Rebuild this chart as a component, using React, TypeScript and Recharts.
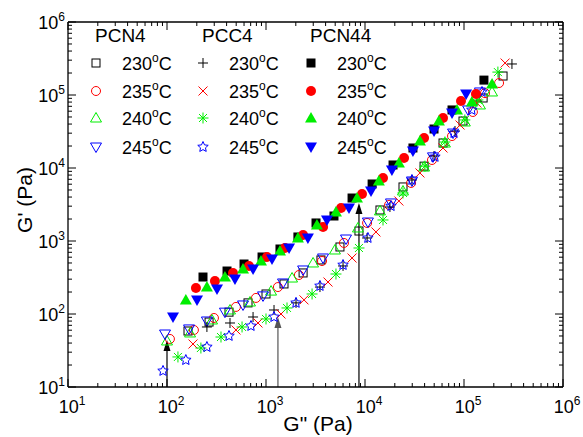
import React from 'react';
import { ScatterChart, Scatter, XAxis, YAxis, ReferenceLine } from 'recharts';

if (typeof document !== 'undefined') {
  document.body.style.margin = '0';
}

// ---------- data (G'' [Pa], G' [Pa]) ----------
const groupNames = ['PCN4', 'PCC4', 'PCN44'];
const tempLabels = ['230', '235', '240', '245'];

const pcn4_230 = [[163,58.5],[266,77.6],[423,106],[658,142],[1000,188],[1520,258],[2370,365],[3590,550],[5585,828],[8690,1370],[14160,2660],[24200,5500],[39500,10600],[61400,22000],[97700,44000],[156000,91000],[248000,182000]];
const pcn4_235 = [[107,45.5],[187,60.4],[298,88.2],[497,125],[792,166],[1320,234],[2150,342],[3680,532],[6130,940],[10500,1766],[17500,3115],[29200,6240],[47500,12880],[75700,27400],[123000,58500],[163000,106000],[226000,146000]];
const pcn4_240 = [[100,42.7],[171,55],[285,82.8],[433,113.5],[689,146],[1125,206],[1833,311],[2990,500],[4972,753],[8490,1508],[14160,2580],[24200,4840],[39500,10300],[64180,22000],[102000,42700],[145000,73030],[192000,110000]];
const pcn4_245 = [[95.5,53.2],[167,62.4],[253,80.2],[385,106],[586,133],[933,177],[1485,266],[2370,401],[3770,585],[6430,1065],[10700,1820],[18300,3320],[29800,6640],[48600,14200],[77500,30100],[110000,62370],[145000,110000]];

const pcc4_230 = [[253,66.4],[433,75.3],[740,91],[1205,113.5],[2010,142],[3508,234],[6000,455],[10500,1100],[17860,2920],[29800,6855],[49800,14600],[81100,32100],[135000,82800],[305000,266000]];
const pcc4_235 = [[183,38.8],[497,60.4],[830,75.3],[1418,100],[2420,156],[4230,274],[7400,585],[12900,1330],[22000,3530],[35890,8550],[61400,18800],[91200,38800],[135000,77600],[260000,274000]];
const pcc4_240 = [[129,25.8],[220,34.2],[351,48.4],[573,66.4],[1000,85.5],[1630,121],[2920,188],[5090,353],[8690,802],[15200,1941],[24200,4550],[40310,10600],[64180,22700],[102000,45500],[138000,85500],[220000,206000]];
const pcc4_245 = [[91.2,16.6],[155,23.4],[253,35.3],[423,50],[705,68.5],[1205,91],[2010,142],[3508,242],[6000,469],[10700,1100],[18300,3010],[29800,6855],[50870,14200],[79300,30100],[120000,62370],[152000,110000]];

const pcn44_230 = [[231,321],[404,388],[600,484],[912,604],[1384,777],[2100,1135],[3200,1766],[4860,2200],[7400,3880],[11800,6040],[19200,11000],[30500,18800],[49800,34200],[75700,62400],[159000,160000]];
const pcn44_235 = [[196,227],[305,283],[464,365],[673,455],[1024,604],[1555,802],[2370,1209],[3770,1556],[5730,2830],[9330,4400],[15200,7300],[24800,13700],[39500,25800],[61400,48400],[93300,82800],[132000,103000]];
const pcn44_240 = [[155,156],[253,234],[385,321],[586,413],[890,532],[1384,730],[2100,1100],[3270,1657],[5090,2500],[8300,3880],[13800,6640],[22000,11700],[35890,23400],[55800,44000],[85000,62400],[120000,80100],[192000,141000]];
const pcn44_245 = [[115,91],[201,156],[320,220],[486,301],[740,413],[1150,566],[1710,802],[2650,1100],[4130,1941],[6890,2830],[11500,4840],[18700,9400],[30500,17100],[49800,32100],[75700,56600],[105000,103000]];

// arrows: G'' position and G' of the tip (start at bottom of axis)
const arrowX = [100, 1320, 8690];
const arrowTipY = [44, 91, 3320];

const majorTicks = [10, 100, 1000, 10000, 100000, 1000000];
const minorMult = [2, 3, 4, 5, 6, 7, 8, 9];

// ---------- styling ----------
const FONT = 'Liberation Sans, Arial, Helvetica, sans-serif';
const BLACK = '#000000';
const RED = '#ff0000';
const GREEN = '#00ee00';
const BLUE = '#0000ff';
const tempColors = [BLACK, RED, GREEN, BLUE];
const groupKinds = [
  ['square', 'circle', 'tri', 'triDown'],
  ['plus', 'cross', 'aster', 'star'],
  ['squareF', 'circleF', 'triF', 'triDownF'],
];
const groupData = [
  [pcn4_230, pcn4_235, pcn4_240, pcn4_245],
  [pcc4_230, pcc4_235, pcc4_240, pcc4_245],
  [pcn44_230, pcn44_235, pcn44_240, pcn44_245],
];
const arrowColors = [BLACK, '#555555', BLACK];

const allTicks = [
  ...majorTicks,
  ...majorTicks.slice(0, -1).flatMap((d) => minorMult.map((m) => m * d)),
].sort((a, b) => a - b);

const expOf = (v: number) => Math.round(Math.log10(v));
const isMajor = (v: number) => Math.abs(Math.log10(v) - expOf(v)) < 1e-9;

function starPath(cx: number, cy: number, ro: number, ri: number) {
  let d = '';
  for (let i = 0; i < 10; i++) {
    const r = i % 2 === 0 ? ro : ri;
    const a = -Math.PI / 2 + (i * Math.PI) / 5;
    d += (i === 0 ? 'M' : 'L') + (cx + r * Math.cos(a)).toFixed(2) + ',' + (cy + r * Math.sin(a)).toFixed(2);
  }
  return d + 'Z';
}

function Marker({ kind, color, cx, cy }: { kind: string; color: string; cx: number; cy: number }) {
  const sw = 1;
  switch (kind) {
    case 'square':
      return <rect x={cx - 4} y={cy - 4} width={8} height={8} fill="none" stroke={color} strokeWidth={sw} />;
    case 'squareF':
      return <rect x={cx - 4.5} y={cy - 4.5} width={9} height={9} fill={color} stroke="none" />;
    case 'circle':
      return <circle cx={cx} cy={cy} r={4.5} fill="none" stroke={color} strokeWidth={sw} />;
    case 'circleF':
      return <circle cx={cx} cy={cy} r={5} fill={color} stroke="none" />;
    case 'tri':
      return <polygon points={`${cx},${cy - 5.5} ${cx - 5.5},${cy + 4} ${cx + 5.5},${cy + 4}`} fill="none" stroke={color} strokeWidth={sw} />;
    case 'triF':
      return <polygon points={`${cx},${cy - 6} ${cx - 6},${cy + 4.5} ${cx + 6},${cy + 4.5}`} fill={color} stroke="none" />;
    case 'triDown':
      return <polygon points={`${cx - 5.5},${cy - 4} ${cx + 5.5},${cy - 4} ${cx},${cy + 5.5}`} fill="none" stroke={color} strokeWidth={sw} />;
    case 'triDownF':
      return <polygon points={`${cx - 6},${cy - 4.5} ${cx + 6},${cy - 4.5} ${cx},${cy + 6}`} fill={color} stroke="none" />;
    case 'plus':
      return <path d={`M${cx - 5},${cy}h10M${cx},${cy - 5}v10`} stroke={color} strokeWidth={sw} fill="none" />;
    case 'cross':
      return <path d={`M${cx - 4.5},${cy - 4.5}l9,9M${cx + 4.5},${cy - 4.5}l-9,9`} stroke={color} strokeWidth={sw} fill="none" />;
    case 'aster':
      return <path d={`M${cx - 5.5},${cy}h11M${cx},${cy - 5.5}v11M${cx - 4},${cy - 4}l8,8M${cx + 4},${cy - 4}l-8,8`} stroke={color} strokeWidth={sw} fill="none" />;
    case 'star':
      return <path d={starPath(cx, cy, 5.5, 2.6)} stroke={color} strokeWidth={sw} fill="none" />;
    default:
      return null;
  }
}

const TickLabel = ({ x, y, v, anchor }: { x: number; y: number; v: number; anchor: 'middle' | 'end' }) => (
  <text x={x} y={y} textAnchor={anchor} fontFamily={FONT} fontSize={18} fill="#000">
    <tspan>10</tspan>
    <tspan dy={-8} fontSize={12}>{expOf(v)}</tspan>
  </text>
);

const BottomTick = (props: any) => {
  const { x, y, payload } = props;
  const v = payload.value;
  const major = isMajor(v);
  return (
    <g>
      <line x1={x} y1={y} x2={x} y2={y - (major ? 8 : 4)} stroke="#000" strokeWidth={1} />
      {major && <TickLabel x={x + 4} y={y + 26} v={v} anchor="middle" />}
    </g>
  );
};
const TopTick = (props: any) => {
  const { x, y, payload } = props;
  const major = isMajor(payload.value);
  return <line x1={x} y1={y} x2={x} y2={y + (major ? 8 : 4)} stroke="#000" strokeWidth={1} />;
};
const LeftTick = (props: any) => {
  const { x, y, payload } = props;
  const v = payload.value;
  const major = isMajor(v);
  return (
    <g>
      <line x1={x} y1={y} x2={x + (major ? 8 : 4)} y2={y} stroke="#000" strokeWidth={1} />
      {major && <TickLabel x={x - 3} y={y + 7} v={v} anchor="end" />}
    </g>
  );
};
const RightTick = (props: any) => {
  const { x, y, payload } = props;
  const major = isMajor(payload.value);
  return <line x1={x} y1={y} x2={x - (major ? 8 : 4)} y2={y} stroke="#000" strokeWidth={1} />;
};

const makeArrow = (color: string) => (p: any) => {
  const { x1, y1, x2, y2 } = p;
  return (
    <g>
      <line x1={x1} y1={y1} x2={x2} y2={y2 + 6} stroke={color} strokeWidth={1.2} />
      <polygon points={`${x2},${y2} ${x2 - 3.5},${y2 + 11} ${x2 + 3.5},${y2 + 11}`} fill={color} />
    </g>
  );
};

const W = 583;
const H = 437;

const legendColX = [95, 202, 310];
const legendTextX = [122, 229, 337];
const legendRowY = [63, 91, 118, 147];

export default function App() {
  const series: any[] = [];
  groupData.forEach((g, gi) =>
    g.forEach((pts, ti) => {
      series.push({
        key: `${groupNames[gi]}-${tempLabels[ti]}`,
        data: pts.map(([x, y]) => ({ x, y })),
        kind: groupKinds[gi][ti],
        color: tempColors[ti],
      });
    })
  );

  const axisLine = { stroke: '#000', strokeWidth: 1.3 };

  return (
    <div style={{ position: 'relative', width: W, height: H, overflow: 'hidden' }}>
      <ScatterChart width={W} height={H} margin={{ top: 20, right: 18, left: 0, bottom: 0 }}>
        <XAxis
          xAxisId="b"
          dataKey="x"
          type="number"
          scale="log"
          domain={[10, 1000000]}
          allowDataOverflow
          ticks={allTicks}
          interval={0}
          tickLine={false}
          tickSize={0}
          tickMargin={0}
          tick={<BottomTick />}
          height={50}
          axisLine={axisLine}
        />
        <XAxis
          xAxisId="t"
          dataKey="x"
          orientation="top"
          type="number"
          scale="log"
          domain={[10, 1000000]}
          allowDataOverflow
          ticks={allTicks}
          interval={0}
          tickLine={false}
          tickSize={0}
          tickMargin={0}
          tick={<TopTick />}
          height={2}
          axisLine={axisLine}
        />
        <YAxis
          yAxisId="l"
          dataKey="y"
          type="number"
          scale="log"
          domain={[10, 1000000]}
          allowDataOverflow
          ticks={allTicks}
          interval={0}
          tickLine={false}
          tickSize={0}
          tickMargin={0}
          tick={<LeftTick />}
          width={68}
          axisLine={axisLine}
        />
        <YAxis
          yAxisId="r"
          dataKey="y"
          orientation="right"
          type="number"
          scale="log"
          domain={[10, 1000000]}
          allowDataOverflow
          ticks={allTicks}
          interval={0}
          tickLine={false}
          tickSize={0}
          tickMargin={0}
          tick={<RightTick />}
          width={2}
          axisLine={axisLine}
        />
        <Scatter
          xAxisId="t"
          yAxisId="r"
          data={series[0].data}
          isAnimationActive={false}
          shape={() => <g />}
        />
        {arrowX.map((ax, i) => (
          <ReferenceLine
            key={`arrow-${i}`}
            xAxisId="b"
            yAxisId="l"
            segment={[{ x: ax, y: 10 }, { x: ax, y: arrowTipY[i] }]}
            stroke={arrowColors[i]}
            shape={makeArrow(arrowColors[i])}
          />
        ))}
        {series.map((s) => (
          <Scatter
            key={s.key}
            name={s.key}
            xAxisId="b"
            yAxisId="l"
            data={s.data}
            isAnimationActive={false}
            shape={(p: any) => <Marker kind={s.kind} color={s.color} cx={p.cx} cy={p.cy} />}
          />
        ))}
      </ScatterChart>
      <svg
        width={W}
        height={H}
        style={{ position: 'absolute', left: 0, top: 0, pointerEvents: 'none' }}
      >
        {groupNames.map((g, gi) => (
          <text key={g} x={legendColX[gi]} y={42} fontFamily={FONT} fontSize={19} fill="#000">
            {g}
          </text>
        ))}
        {groupNames.map((g, gi) =>
          tempLabels.map((t, ti) => (
            <g key={`${g}-${t}`}>
              <Marker kind={groupKinds[gi][ti]} color={tempColors[ti]} cx={legendColX[gi] + 1} cy={legendRowY[ti]} />
              <text x={legendTextX[gi]} y={legendRowY[ti] + 7} fontFamily={FONT} fontSize={18} fill="#000">
                <tspan>{t}</tspan>
                <tspan dy={-8} fontSize={12}>o</tspan>
                <tspan dy={8}>C</tspan>
              </text>
            </g>
          ))
        )}
        <text
          x={32}
          y={200}
          textAnchor="middle"
          fontFamily={FONT}
          fontSize={21}
          fill="#000"
          transform="rotate(-90, 32, 200)"
        >
          G' (Pa)
        </text>
        <text x={318} y={431} textAnchor="middle" fontFamily={FONT} fontSize={21} fill="#000">
          G" (Pa)
        </text>
      </svg>
    </div>
  );
}
